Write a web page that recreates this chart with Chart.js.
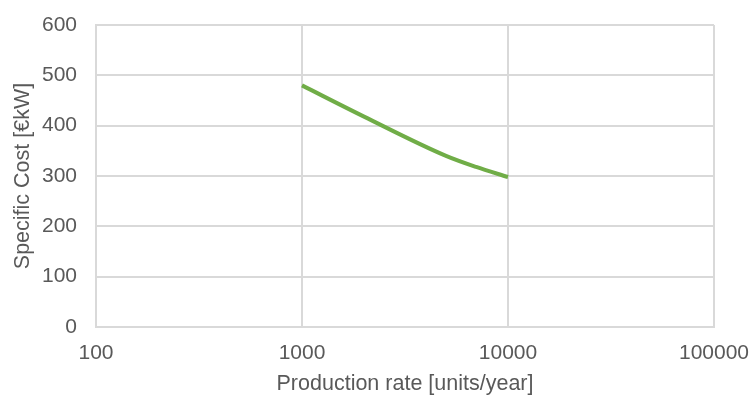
<!DOCTYPE html>
<html>
<head>
<meta charset="utf-8">
<script src="https://cdn.jsdelivr.net/npm/chart.js@4/dist/chart.umd.min.js"></script>
<style>
  body { margin: 0; background: #fff; }
  #wrap { width: 750px; height: 397px; }
</style>
</head>
<body>
<div id="wrap"><canvas id="costChart"></canvas></div>
<script>
// Data
const productionRate = [1000, 2000, 5000, 7000, 10000]
const specificCost = [480, 418, 340, 318, 298]
const xTicks = [100, 1000, 10000, 100000]
const yTicks = [0, 100, 200, 300, 400, 500, 600]

const grey = "#595959"
const gridGrey = "#d9d9d9"
const family = "'Liberation Sans', Arial, sans-serif"
const tickFont = { family: family, size: 21 }
const titleFont = { family: family, size: 21.5 }

const ctx = document.getElementById("costChart").getContext("2d")

new Chart(ctx, {
  type: "line",
  data: {
    datasets: [
      {
        data: productionRate.map((x, i) => ({ x: x, y: specificCost[i] })),
        borderColor: "#70ad47",
        borderWidth: 4,
        pointRadius: 0,
        cubicInterpolationMode: "monotone",
        fill: false,
      },
    ],
  },
  options: {
    responsive: true,
    maintainAspectRatio: false,
    animation: false,
    layout: { padding: { top: 25, right: 36, left: 0, bottom: 0 } },
    plugins: {
      legend: { display: false },
      tooltip: { enabled: false },
    },
    scales: {
      x: {
        type: "logarithmic",
        min: 100,
        max: 100000,
        afterBuildTicks: (scale) => {
          scale.ticks = xTicks.map((v) => ({ value: v }))
        },
        afterFit: (scale) => {
          scale.height = 70
          // let the layout padding alone decide the plot edges
          scale.paddingLeft = 0
          scale.paddingRight = 0
        },
        ticks: {
          color: grey,
          font: tickFont,
          padding: 14,
          maxRotation: 0,
          callback: (v) => String(v),
        },
        grid: { color: gridGrey, lineWidth: 2, drawTicks: false },
        border: { color: gridGrey, width: 2 },
        title: {
          display: true,
          text: "Production rate [units/year]",
          color: grey,
          font: titleFont,
          padding: { top: 4, bottom: 0 },
        },
      },
      y: {
        min: 0,
        max: 600,
        afterBuildTicks: (scale) => {
          scale.ticks = yTicks.map((v) => ({ value: v }))
        },
        afterFit: (scale) => {
          scale.width = 96
          scale.paddingTop = 0
          scale.paddingBottom = 0
        },
        ticks: {
          color: grey,
          font: tickFont,
          padding: 19,
        },
        grid: { color: gridGrey, lineWidth: 2, drawTicks: false },
        border: { color: gridGrey, width: 2 },
        title: {
          display: true,
          text: "Specific Cost [€kW]",
          color: grey,
          font: titleFont,
          padding: { top: 10, bottom: 0 },
        },
      },
    },
  },
})
</script>
</body>
</html>
